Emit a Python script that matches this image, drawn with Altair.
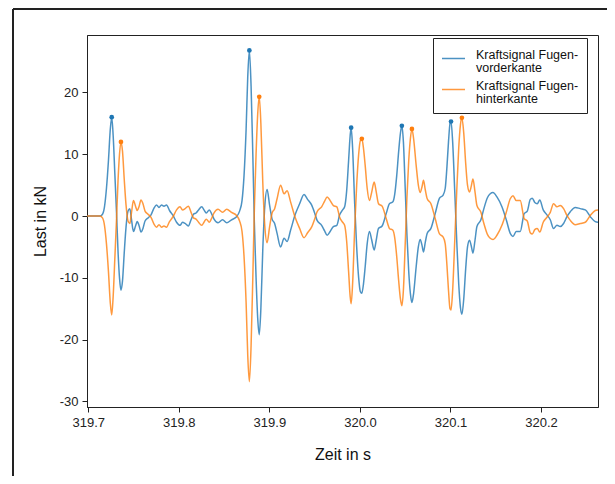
import altair as alt
import pandas as pd

# Zeit in s
time_s = [
    319.6986, 319.7129, 319.7157, 319.7179, 319.7201, 319.7223, 319.7243, 319.7259, 319.7275, 319.7293,
    319.7312, 319.7328, 319.7345, 319.7361, 319.7378, 319.7397, 319.7417, 319.7439, 319.7459, 319.7477,
    319.7499, 319.7522, 319.7540, 319.7562, 319.7582, 319.7604, 319.7627, 319.7660, 319.7693, 319.7726,
    319.7754, 319.7781, 319.7809, 319.7836, 319.7864, 319.7897, 319.7936, 319.7975, 319.8013, 319.8041,
    319.8069, 319.8105, 319.8135, 319.8162, 319.8190, 319.8218, 319.8253, 319.8278, 319.8303, 319.8337,
    319.8361, 319.8389, 319.8433, 319.8483, 319.8529, 319.8582, 319.8638, 319.8671, 319.8698, 319.8720,
    319.8743, 319.8761, 319.8779, 319.8798, 319.8817, 319.8834, 319.8853, 319.8871, 319.8888, 319.8906,
    319.8927, 319.8949, 319.8975, 319.9002, 319.9030, 319.9058, 319.9085, 319.9124, 319.9162, 319.9196,
    319.9234, 319.9284, 319.9334, 319.9383, 319.9422, 319.9466, 319.9500, 319.9527, 319.9577, 319.9610,
    319.9638, 319.9671, 319.9707, 319.9745, 319.9776, 319.9809, 319.9831, 319.9853, 319.9875, 319.9892,
    319.9903, 319.9919, 319.9942, 319.9964, 319.9986, 320.0004, 320.0021, 320.0039, 320.0058, 320.0080,
    320.0105, 320.0129, 320.0157, 320.0179, 320.0205, 320.0245, 320.0290, 320.0326, 320.0364, 320.0384,
    320.0406, 320.0428, 320.0448, 320.0463, 320.0480, 320.0500, 320.0519, 320.0539, 320.0557, 320.0574,
    320.0593, 320.0621, 320.0645, 320.0665, 320.0685, 320.0702, 320.0721, 320.0743, 320.0784, 320.0831,
    320.0879, 320.0919, 320.0942, 320.0961, 320.0978, 320.0995, 320.1006, 320.1024, 320.1047, 320.1069,
    320.1091, 320.1110, 320.1126, 320.1146, 320.1168, 320.1188, 320.1210, 320.1229, 320.1248, 320.1270,
    320.1292, 320.1336, 320.1365, 320.1409, 320.1439, 320.1469, 320.1513, 320.1568, 320.1616, 320.1660,
    320.1690, 320.1726, 320.1770, 320.1814, 320.1848, 320.1881, 320.1903, 320.1931, 320.1958, 320.1986,
    320.2024, 320.2065, 320.2102, 320.2138, 320.2176, 320.2212, 320.2249, 320.2286, 320.2323, 320.2378,
    320.2433, 320.2489, 320.2544, 320.2599, 320.2629,
]

# Last in kN, Kraftsignal Fugenvorderkante
kraft_vorderkante = [
    0, 0, 0.3, 1.5, 4.5, 9.0, 14.0, 16.0, 13.0, 7.0,
    0.5, -5.5, -10.0, -12.0, -10.5, -6.0, -1.8, 0.8, 1.2, -0.5,
    -2.5, -1.6, -0.9, -1.6, -2.6, -2.0, -0.8, -0.3, 0.2, 1.3,
    1.8, 1.4, 1.8, 1.6, 1.8, 0.9, 0.1, -1.0, -1.5, -1.0,
    -1.2, -1.6, -0.6, 0.3, 0.5, 1.0, 1.5, 1.0, 0.5, 1.0,
    0.4, -0.5, -1.1, -0.6, -1.1, -0.6, -0.1, 0.8, 2.5, 6.5,
    14.0, 22.5, 26.8, 21.0, 10.0, -1.0, -10.0, -16.5, -19.2, -15.0,
    -5.5, 1.5, 4.3, 1.8, -0.5, -1.2, -2.8, -5.0, -3.6, -4.1,
    -2.3, 0.2, 2.0, 3.5, 2.7, 1.8, 0.5, -0.7, -1.5, -2.4,
    -3.1, -2.5, -1.7, -1.5, 0.2, 1.0, 1.5, 4.0, 9.0, 13.0,
    14.3, 11.0, 2.0, -5.0, -10.0, -12.2, -12.5, -11.0, -8.2, -4.5,
    -2.5, -3.8, -5.5, -4.0, -2.0, -1.6, 0.4, 2.0, 2.3, 3.5,
    6.5, 10.5, 13.5, 14.6, 12.0, 4.5, -3.0, -9.0, -12.5, -14.0,
    -12.5, -8.2, -5.0, -3.8, -4.7, -5.8, -4.3, -2.8, -2.0, 0.4,
    2.9, 3.4, 4.5, 8.0, 12.0, 15.0, 15.3, 12.0, 4.0, -4.0,
    -11.0, -14.8, -15.9, -13.5, -8.5, -5.0, -3.9, -4.8, -6.0, -4.0,
    -1.7, -0.6, 1.0, 3.0, 3.6, 3.8, 3.1, 1.5, -0.6, -2.8,
    -3.3, -2.5, -2.5, 0.4, 0.8, 2.7, 2.9, 2.2, 2.0, 2.6,
    1.0, 0.2, -0.6, -2.0, -1.5, -1.7, -1.2, -0.1, 0.7, 1.4,
    1.2, 1.0, -0.1, -0.9, -1.0,
]

# Last in kN, Kraftsignal Fugenhinterkante
kraft_hinterkante = [
    0, 0, -0.3, -1.5, -4.5, -9.0, -14.0, -16.0, -13.0, -7.0,
    -0.5, 5.5, 10.0, 12.0, 10.5, 6.0, 1.8, -0.8, -1.2, 0.5,
    2.5, 1.6, 0.9, 1.6, 2.6, 2.0, 0.8, 0.3, -0.2, -1.3,
    -1.8, -1.4, -1.8, -1.6, -1.8, -0.9, -0.1, 1.0, 1.5, 1.0,
    1.2, 1.6, 0.6, -0.3, -0.5, -1.0, -1.5, -1.0, -0.5, -1.0,
    -0.4, 0.5, 1.1, 0.6, 1.1, 0.6, 0.1, -0.8, -2.5, -6.5,
    -14.0, -22.5, -26.8, -21.0, -10.0, 1.0, 10.0, 16.5, 19.3, 15.0,
    5.5, -1.5, -4.3, -1.8, 0.5, 1.2, 2.8, 5.0, 3.6, 4.1,
    2.3, -0.2, -2.0, -3.5, -2.7, -1.8, -0.5, 0.7, 1.5, 2.4,
    3.1, 2.5, 1.7, 1.5, -0.2, -1.0, -1.5, -4.0, -9.0, -13.0,
    -14.2, -11.0, -2.0, 5.0, 10.0, 12.2, 12.5, 11.0, 8.2, 4.5,
    2.5, 3.8, 5.5, 4.0, 2.0, 1.6, -0.4, -2.0, -2.3, -3.5,
    -6.5, -10.5, -13.5, -14.5, -12.0, -4.5, 3.0, 9.0, 12.5, 14.1,
    12.5, 8.2, 5.0, 3.8, 4.7, 5.8, 4.3, 2.8, 2.0, -0.4,
    -2.9, -3.4, -4.5, -8.0, -12.0, -15.0, -15.2, -12.0, -4.0, 4.0,
    11.0, 14.8, 15.9, 13.5, 8.5, 5.0, 3.9, 4.8, 6.0, 4.0,
    1.7, 0.6, -1.0, -3.0, -3.6, -3.8, -3.1, -1.5, 0.6, 2.8,
    3.3, 2.5, 2.5, -0.4, -0.8, -2.7, -2.9, -2.2, -2.0, -2.6,
    -1.0, -0.2, 0.6, 2.0, 1.5, 1.7, 1.2, 0.1, -0.7, -1.4,
    -1.2, -1.0, 0.1, 0.9, 1.0,
]

# markierte Spitzenwerte
peak_time_vorder = [319.7259, 319.8779, 319.9903, 320.0463, 320.1006]
peak_kn_vorder = [16.0, 26.8, 14.3, 14.6, 15.3]
peak_time_hinter = [319.7361, 319.8888, 320.0021, 320.0574, 320.1126]
peak_kn_hinter = [12.0, 19.3, 12.5, 14.1, 15.9]

series_names = ["Kraftsignal Fugen-|vorderkante", "Kraftsignal Fugen-|hinterkante"]
series_colors = ["#1f77b4", "#ff7f0e"]
x_ticks = [319.7, 319.8, 319.9, 320.0, 320.1, 320.2]
y_ticks = [-30, -20, -10, 0, 10, 20]

n = len(time_s)
lines_df = pd.DataFrame({
    "t": time_s + time_s,
    "kn": kraft_vorderkante + kraft_hinterkante,
    "serie": [series_names[0]] * n + [series_names[1]] * n,
})
peaks_df = pd.DataFrame({
    "t": peak_time_vorder + peak_time_hinter,
    "kn": peak_kn_vorder + peak_kn_hinter,
    "serie": [series_names[0]] * len(peak_time_vorder) + [series_names[1]] * len(peak_time_hinter),
})

x_enc = alt.X("t:Q", title="Zeit in s",
              scale=alt.Scale(domain=[319.6986, 320.2629], nice=False, zero=False),
              axis=alt.Axis(values=x_ticks, format=".1f", titlePadding=17))
y_enc = alt.Y("kn:Q", title="Last in kN",
              scale=alt.Scale(domain=[-30.9, 29.3], nice=False, zero=False),
              axis=alt.Axis(values=y_ticks, labelExpr="datum.value + ''", titlePadding=11))
color_scale = alt.Scale(domain=series_names, range=series_colors)

lines = alt.Chart(lines_df).mark_line(strokeWidth=1.5, opacity=0.8, interpolate="monotone", clip=True).encode(
    x=x_enc, y=y_enc,
    color=alt.Color("serie:N", scale=color_scale, sort=series_names,
                    legend=alt.Legend(title=None, orient="none", legendX=346, legendY=3,
                                      symbolType="stroke", symbolSize=529, symbolStrokeWidth=1.5,
                                      symbolOpacity=0.8, labelExpr="split(datum.label, '|')",
                                      labelFontSize=12.5, labelLimit=300, labelBaseline="alphabetic",
                                      labelOffset=10, rowPadding=3, padding=8, zindex=5,
                                      strokeColor="#222", fillColor="white", cornerRadius=0,
                                      labelColor="#111")),
    detail="serie:N",
)

points = alt.Chart(peaks_df).mark_circle(size=22, opacity=1).encode(
    x="t:Q", y="kn:Q",
    color=alt.Color("serie:N", scale=color_scale, legend=None),
)

frame_v = alt.Chart(lines_df).mark_rule(color="#222", strokeWidth=1).encode(
    x=alt.value(-74), y=alt.value(-26), y2=alt.value(441))
frame_h = alt.Chart(lines_df).mark_rule(color="#222", strokeWidth=1).encode(
    x=alt.value(-74), x2=alt.value(520), y=alt.value(-26))

chart = alt.layer(frame_v, frame_h, lines, points).properties(
    width=511, height=372,
    autosize=alt.AutoSizeParams(type="none"),
    padding={"left": 79, "top": 27, "right": 9, "bottom": 69},
).configure(
    font="Liberation Sans",
    style={"guide-label": {"lineHeight": 13}},
).configure_view(
    stroke="#222", strokeWidth=1
).configure_axis(
    grid=False, domainColor="#222", tickColor="#222", labelColor="#222", titleColor="#111",
    labelFontSize=13, titleFontSize=16, titleFontWeight="normal", tickSize=5, labelPadding=4,
)

chart.save("out.html", embed_options={"renderer": "svg", "actions": False})
